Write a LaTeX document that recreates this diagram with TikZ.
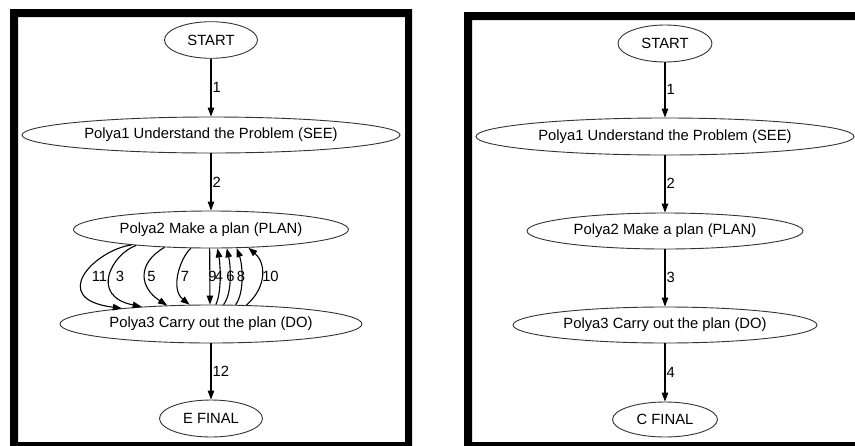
\documentclass[tikz,border=0pt]{standalone}
\usepackage{fontspec}
\setmainfont{Liberation Sans}
\usetikzlibrary{shapes.geometric,arrows.meta}
\begin{document}
\begin{tikzpicture}[x=1pt,y=-1pt,
  txt/.style={font=\fontsize{14.8}{17}\selectfont},
  oval/.style={ellipse, draw=black!80, line width=0.9pt, inner sep=0pt, txt},
  edge/.style={draw=black, line width=1.1pt, -{Triangle[length=9pt,width=6.5pt]}},
  lbl/.style={txt, inner sep=0.5pt, anchor=west},
  clbl/.style={txt, inner sep=0.5pt, anchor=center}]
\useasboundingbox (0,0) rectangle (855,445);

% panel frames
\fill[black, even odd rule] (10,9) rectangle (412,447) (18,17) rectangle (405,442);
\fill[black, even odd rule] (464,12) rectangle (860,447) (472,20) rectangle (860,442);

% ---------- left graph ----------
\node[oval, minimum width=93pt,  minimum height=36.6pt] (ls)  at (211,40)    {START};
\node[oval, minimum width=378pt, minimum height=36pt]   (la1) at (211,135)   {Polya1 Understand the Problem (SEE)};
\node[oval, minimum width=275pt, minimum height=37pt]   (la2) at (211,229.5) {Polya2 Make a plan (PLAN)};
\node[oval, minimum width=302pt, minimum height=38pt]   (la3) at (211,324)   {Polya3 Carry out the plan (DO)};
\node[oval, minimum width=103pt, minimum height=37pt]   (lf)  at (211,418.5) {E FINAL};

\draw[edge] (ls) -- (la1) node[lbl] at (211.5,87) {1};
\draw[edge] (la1) -- (la2) node[lbl] at (211.5,182) {2};
\draw[edge] (la3) -- (lf) node[lbl] at (211.5,371) {12};

% plan -> do
\draw[edge] (la2.191.8) .. controls (95,250) and (47,299) .. (la3.170.9);
\draw[edge] (la2.192.2) .. controls (112,254) and (89,296) .. (la3.166.7);
\draw[edge] (la2.201.1) .. controls (136,264) and (140,288) .. (la3.157.7);
\draw[edge] (la2.223.5) .. controls (180,258) and (170,289) .. (la3.138.1);
\draw[edge] (la2.266.9) -- (la3.93);
% do -> plan
\draw[edge] (la3.76.1) .. controls (222,292) and (220.2,263.7) .. (la2.289.9);
\draw[edge] (la3.57)   .. controls (233,292) and (230.3,263.8) .. (la2.310.5);
\draw[edge] (la3.38)   .. controls (245,292) and (242.3,263.6) .. (la2.324.7);
\draw[edge] (la3.28.6) .. controls (268.4,285.3) and (265,262) .. (la2.334.5);

\node[clbl] (l11) at (99.5,276)  {11};
\node[clbl] (l3)  at (120,276)   {3};
\node[clbl] (l5)  at (151.5,276) {5};
\node[clbl] (l7)  at (185,276)   {7};
\node[clbl] (l9)  at (212.5,276) {9};
\node[clbl] (l4)  at (219,276)   {4};
\node[clbl] (l6)  at (230.5,276) {6};
\node[clbl] (l8)  at (241,276)   {8};
\node[clbl] (l10) at (270.5,276) {10};

% ---------- right graph ----------
\node[oval, minimum width=94pt,  minimum height=37pt] (rs)  at (665,43.5)  {START};
\node[oval, minimum width=378pt, minimum height=37pt] (ra1) at (665,136.5) {Polya1 Understand the Problem (SEE)};
\node[oval, minimum width=276pt, minimum height=36pt] (ra2) at (665,231)   {Polya2 Make a plan (PLAN)};
\node[oval, minimum width=304pt, minimum height=36pt] (ra3) at (665,325)   {Polya3 Carry out the plan (DO)};
\node[oval, minimum width=105pt, minimum height=35pt] (rf)  at (665,419.5) {C FINAL};

\draw[edge] (rs) -- (ra1) node[lbl] at (665.5,89) {1};
\draw[edge] (ra1) -- (ra2) node[lbl] at (665.5,183) {2};
\draw[edge] (ra2) -- (ra3) node[lbl] at (665.5,277) {3};
\draw[edge] (ra3) -- (rf) node[lbl] at (665.5,372) {4};
\end{tikzpicture}
\end{document}
